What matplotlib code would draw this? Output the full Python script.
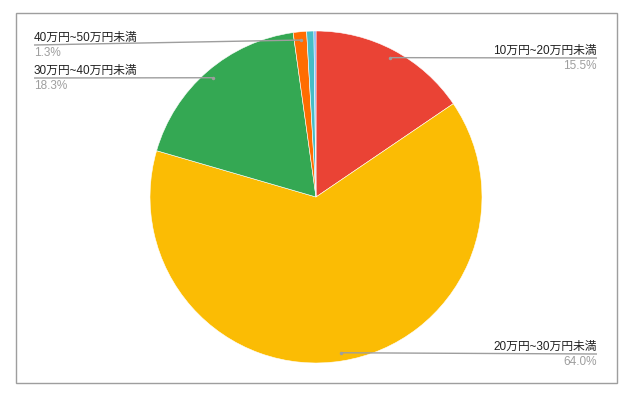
import numpy as np
import matplotlib
matplotlib.use("Agg")
import matplotlib.pyplot as plt
from matplotlib.patches import Rectangle

plt.rcParams['font.family'] = ['Liberation Sans', 'Noto Sans CJK JP', 'DejaVu Sans']

# data
categories = ["10万円~20万円未満", "20万円~30万円未満", "30万円~40万円未満",
              "40万円~50万円未満", "50万円~60万円未満", "60万円以上"]
shares = [15.5, 64.0, 18.3, 1.3, 0.7, 0.2]
colors = ["#EA4335", "#FBBC04", "#34A853", "#FF6D01", "#46BDC6", "#7BAAF7"]
pct_labels = ["15.5%", "64.0%", "18.3%", "1.3%", "", ""]

W, H = 635, 402
fig = plt.figure(figsize=(W / 100, H / 100), dpi=100)
ax = fig.add_axes([0, 0, 1, 1])

# outer frame
ax.add_patch(Rectangle((16, H - 384), 601, 370, fill=False, ec="#9e9e9e", lw=1))

cx, cy, r = 316, H - 198, 166
wedges, _ = ax.pie(shares, colors=colors, startangle=90, counterclock=False,
                   center=(cx, cy), radius=r, frame=True,
                   wedgeprops=dict(edgecolor="white", linewidth=0.4))
ax.set_xlim(0, W)
ax.set_ylim(0, H)
ax.axis("off")

# label placement: (side, line y in px, text x in px)
label_pos = {0: ("right", 59, 597), 1: ("right", 355, 597),
             2: ("left", 79, 34), 3: ("left", 46, 34)}

for i, (side, ly, tx) in label_pos.items():
    w = wedges[i]
    mid = np.deg2rad((w.theta1 + w.theta2) / 2)
    dx = cx + 0.95 * r * np.cos(mid)
    dy = cy + 0.95 * r * np.sin(mid)
    y = H - ly
    ax.plot([dx, tx], [dy, y], color="#9e9e9e", lw=1, solid_capstyle="butt")
    ax.plot([dx], [dy], "o", ms=2.5, color="#9e9e9e", mec="none")
    ha = "right" if side == "right" else "left"
    ax.text(tx, y + 2, categories[i], ha=ha, va="bottom", fontsize=8.5,
            color="#222222")
    ax.text(tx, y - 1, pct_labels[i], ha=ha, va="top", fontsize=8.5,
            color="#9e9e9e")

fig.savefig("out.png", dpi=100)
